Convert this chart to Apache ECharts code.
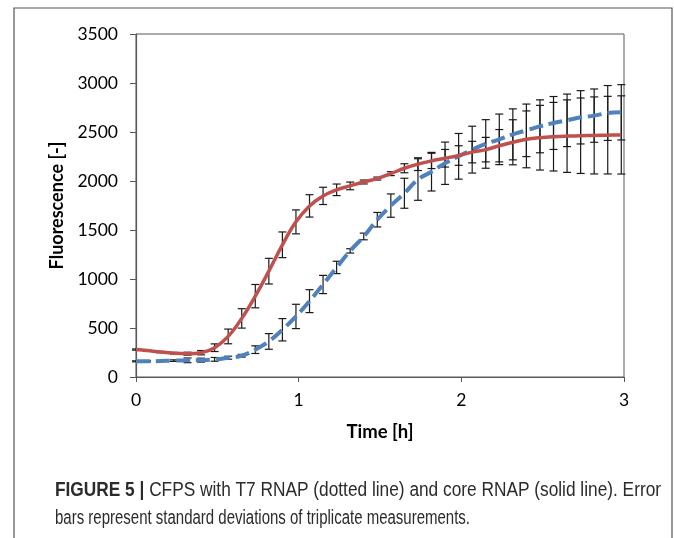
<!DOCTYPE html>
<html>
<head>
<meta charset="utf-8">
<script src="https://cdn.jsdelivr.net/npm/echarts@6/dist/echarts.min.js"></script>
<style>
  html, body { margin: 0; padding: 0; background: #fff; }
  #chart { width: 674px; height: 538px; }
</style>
</head>
<body>
<div id="chart"></div>
<script>
// sampling times (minutes)
const minutes = [0, 4, 9, 14, 19, 24, 29, 34, 39, 44, 49, 54, 59, 64, 69, 74, 79, 84, 89,
  94, 99, 104, 109, 114, 119, 124, 129, 134, 139, 144, 149, 154, 159, 164, 169, 174, 179];

// T7 RNAP (dotted / dashed line)
const t7Mean = [160, 160, 163, 167, 170, 172, 180, 197, 217, 279, 363, 482, 618, 774, 944, 1118, 1287, 1434, 1605,
  1749, 1875, 2015, 2095, 2181, 2252, 2320, 2378, 2425, 2476, 2517, 2558, 2592, 2619, 2650, 2667, 2694, 2701];
const t7Sd = [5, 6, 6, 8, 24, 20, 19, 15, 14, 39, 80, 114, 124, 117, 93, 63, 22, 34, 74,
  119, 153, 212, 197, 216, 233, 239, 248, 258, 260, 268, 270, 270, 268, 272, 272, 280, 282];

// core RNAP (solid line)
const coreMean = [280, 270, 255, 243, 238, 248, 299, 414, 598, 825, 1080, 1349, 1583, 1746, 1848, 1910, 1950, 1990, 2025,
  2075, 2130, 2172, 2205, 2232, 2260, 2295, 2320, 2360, 2395, 2425, 2442, 2452, 2458, 2462, 2465, 2468, 2470];
const coreSd = [6, 6, 6, 8, 15, 22, 39, 75, 99, 119, 131, 131, 122, 114, 88, 59, 39, 20, 15,
  20, 46, 65, 78, 90, 100, 110, 125, 165, 230, 290, 330, 350, 370, 385, 393, 396, 399];

const yTicks = [0, 500, 1000, 1500, 2000, 2500, 3000, 3500];
const xTicks = [0, 1, 2, 3];

const captionBold = 'FIGURE 5 |';
const captionLine1 = ' CFPS with T7 RNAP (dotted line) and core RNAP (solid line). Error';
const captionLine2 = 'bars represent standard deviations of triplicate measurements.';

const hours = minutes.map(m => m / 60);
const pairs = (vals) => hours.map((h, i) => [h, vals[i]]);
const bars = (vals, sds) => hours.map((h, i) => [h, vals[i], sds[i]]);

const chart = echarts.init(document.getElementById('chart'));

// error bar drawer
function errorBar(params, api) {
  const x = api.value(0), m = api.value(1), s = api.value(2);
  const hi = api.coord([x, m + s]);
  const lo = api.coord([x, m - s]);
  const w = 4;
  const st = { stroke: '#1a1a1a', lineWidth: 1.2 };
  return {
    type: 'group',
    children: [
      { type: 'line', shape: { x1: hi[0], y1: hi[1], x2: lo[0], y2: lo[1] }, style: st },
      { type: 'line', shape: { x1: hi[0] - w, y1: hi[1], x2: hi[0] + w, y2: hi[1] }, style: st },
      { type: 'line', shape: { x1: lo[0] - w, y1: lo[1], x2: lo[0] + w, y2: lo[1] }, style: st }
    ]
  };
}

// caption font is a condensed sans, squeeze Liberation Sans to the same line widths
const capFamily = '"Liberation Sans", Arial, sans-serif';
const capSize = 20;
const ctx = document.createElement('canvas').getContext('2d');
ctx.font = 'bold ' + capSize + 'px ' + capFamily;
const wBold = ctx.measureText(captionBold).width;
ctx.font = capSize + 'px ' + capFamily;
const w1 = wBold + ctx.measureText(captionLine1).width;
const w2 = ctx.measureText(captionLine2).width;
const sx1 = 606 / w1;
const sx2 = 415 / w2;

const axisColor = '#595959';
const font = 'Lato, "Open Sans", sans-serif';

chart.setOption({
  animation: false,
  grid: {
    left: 136, right: 50, top: 34, bottom: 161,
    show: true, borderColor: axisColor, borderWidth: 1
  },
  xAxis: {
    type: 'value', min: 0, max: 3, interval: 1,
    name: 'Time [h]', nameLocation: 'middle', nameGap: 46,
    nameTextStyle: { fontFamily: font, fontWeight: 'bold', fontSize: 18.5, color: '#000' },
    axisLine: { lineStyle: { color: axisColor, width: 1.2 } },
    axisTick: { show: true, inside: false, length: 5, lineStyle: { color: axisColor } },
    axisLabel: { fontFamily: font, fontSize: 17.5, color: '#000', margin: 14,
      formatter: v => xTicks.includes(v) ? String(v) : '' },
    splitLine: { show: false }
  },
  yAxis: {
    type: 'value', min: 0, max: 3500, interval: 500,
    name: 'Fluorescence [-]', nameLocation: 'middle', nameGap: 67, nameRotate: 90,
    nameTextStyle: { fontFamily: font, fontWeight: 'bold', fontSize: 18, color: '#000' },
    axisLine: { show: true, lineStyle: { color: axisColor, width: 1.2 } },
    axisTick: { show: true, inside: false, length: 6, lineStyle: { color: axisColor } },
    axisLabel: { fontFamily: font, fontSize: 17.5, color: '#000', margin: 18,
      formatter: v => yTicks.includes(v) ? String(v) : '' },
    splitLine: { show: false }
  },
  graphic: [
    {
      type: 'rect', silent: true,
      shape: { x: 14, y: 8, width: 658, height: 560 },
      style: { fill: 'none', stroke: '#555', lineWidth: 1.2 }
    },
    {
      type: 'text', x: 55, y: 490, scaleX: sx1, originX: 0, originY: 0,
      style: {
        text: '{b|' + captionBold + '}' + captionLine1,
        font: capSize + 'px ' + capFamily,
        fill: '#2b2b2b', verticalAlign: 'middle',
        rich: {
          b: { fontWeight: 'bold', fontSize: capSize, fontFamily: capFamily, fill: '#2b2b2b' }
        }
      }
    },
    {
      type: 'text', x: 55, y: 518, scaleX: sx2, originX: 0, originY: 0,
      style: {
        text: captionLine2,
        font: capSize + 'px ' + capFamily,
        fill: '#2b2b2b', verticalAlign: 'middle'
      }
    }
  ],
  series: [
    {
      name: 'T7 RNAP error', type: 'custom', renderItem: errorBar,
      data: bars(t7Mean, t7Sd), z: 2, silent: true
    },
    {
      name: 'core RNAP error', type: 'custom', renderItem: errorBar,
      data: bars(coreMean, coreSd), z: 2, silent: true
    },
    {
      name: 'T7 RNAP', type: 'line', data: pairs(t7Mean), smooth: 0.4,
      symbol: 'none', z: 3,
      lineStyle: { color: '#4F81BD', width: 4, type: [14, 6], cap: 'butt' }
    },
    {
      name: 'core RNAP', type: 'line', data: pairs(coreMean), smooth: 0.4,
      symbol: 'none', z: 4,
      lineStyle: { color: '#C0504D', width: 3.5 }
    }
  ]
});
</script>
</body>
</html>
